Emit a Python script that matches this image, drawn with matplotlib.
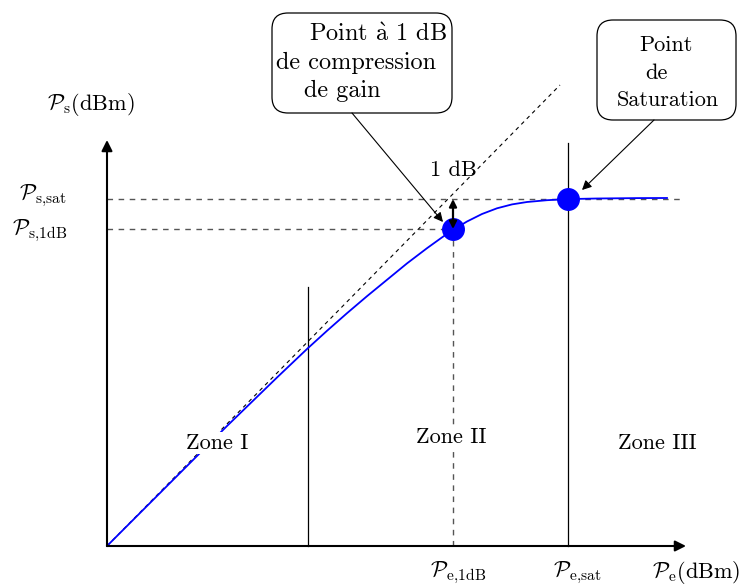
#!/usr/bin/env python3
"""Amplifier gain compression: output power vs input power, with 1 dB and saturation points."""

import matplotlib
matplotlib.use("Agg")
import matplotlib.pyplot as plt
from matplotlib.patches import FancyBboxPatch

plt.rcParams["mathtext.fontset"] = "cm"
plt.rcParams["font.family"] = ["cmr10", "DejaVu Serif"]
plt.rcParams["axes.unicode_minus"] = False

# -- Data (schematic units, origin at axes corner) ---------
p_in = [0, 60, 120, 170, 200, 220, 240, 260, 280, 300, 320, 335, 346,
        360, 375, 390, 405, 420, 440, 461, 490, 530, 560]
p_out = [0, 60, 120, 168.5, 197, 215.2, 232.8, 249.8, 266.2, 282.6, 297.8, 308.6, 316.1,
         324.5, 332, 337.7, 341.6, 344, 345.8, 346.9, 347.5, 347.9, 348]

ideal_x = [0, 453]
ideal_y = [0, 461]

p_e_1db, p_s_1db = 346, 317
p_e_sat, p_s_sat = 461, 347
zone_limit = 201

x_max, y_max = 579, 406

zone_labels = ["Zone I", "Zone II", "Zone III"]
zone_x = [110, 344, 550]
zone_y = [103, 109, 103]

FS = 16
DASH = (0, (4, 4))

fig = plt.figure(figsize=(7.41, 5.86), dpi=100)
ax = fig.add_axes([0, 0, 1, 1])
ax.set_xlim(-107, 634)
ax.set_ylim(-40, 546)
ax.axis("off")

# -- Axes arrows -------------------------------------------
arrow_kw = dict(arrowstyle="-|>", lw=1.5, color="black", mutation_scale=16,
                shrinkA=0, shrinkB=0)
ax.annotate("", xy=(x_max, 0), xytext=(0, 0), arrowprops=arrow_kw)
ax.annotate("", xy=(0, y_max), xytext=(0, 0), arrowprops=arrow_kw)

# -- Reference lines ---------------------------------------
ax.plot([0, 573], [p_s_sat, p_s_sat], color="#555555", lw=1, linestyle=DASH)
ax.plot([0, p_e_1db], [p_s_1db, p_s_1db], color="#555555", lw=1, linestyle=DASH)
ax.plot([p_e_1db, p_e_1db], [0, p_s_1db], color="#555555", lw=1, linestyle=DASH)
ax.plot([p_e_sat, p_e_sat], [0, 403], color="black", lw=0.9)
ax.plot([zone_limit, zone_limit], [0, 259], color="black", lw=0.9)
ax.plot(ideal_x, ideal_y, color="black", lw=0.8, linestyle=(0, (3.5, 3.5)))

# -- Transfer curve ----------------------------------------
ax.plot(p_in, p_out, color="#0000ff", lw=1.3)
ax.plot([p_e_1db, p_e_sat], [p_s_1db, p_s_sat], "o", color="#0000ff", markersize=15.5)

# -- 1 dB arrow --------------------------------------------
ax.annotate("", xy=(p_e_1db, p_s_sat), xytext=(p_e_1db, p_s_1db),
            arrowprops=dict(arrowstyle="<|-|>", lw=1.6, color="black",
                            mutation_scale=11, shrinkA=0, shrinkB=0))
ax.text(p_e_1db, 376, "1 dB", fontsize=FS, ha="center", va="center")

# -- Zone labels -------------------------------------------
for lab, zx, zy in zip(zone_labels, zone_x, zone_y):
    ax.text(zx, zy, lab, fontsize=FS, ha="center", va="center",
            bbox=dict(facecolor="white", edgecolor="none", pad=1))

# -- Axis labels -------------------------------------------
ax.text(-16, 441, r"$\mathcal{P}_\mathrm{s}(\mathrm{dBm})$", fontsize=FS, ha="center", va="center")
ax.text(-40, 350, r"$\mathcal{P}_\mathrm{s{,}sat}$", fontsize=FS, ha="right", va="center")
ax.text(-40, 315, r"$\mathcal{P}_\mathrm{s{,}1dB}$", fontsize=FS, ha="right", va="center")
ax.text(351, -27, r"$\mathcal{P}_\mathrm{e{,}1dB}$", fontsize=FS, ha="center", va="center")
ax.text(470, -27, r"$\mathcal{P}_\mathrm{e{,}sat}$", fontsize=FS, ha="center", va="center")
ax.text(589, -27, r"$\mathcal{P}_\mathrm{e}(\mathrm{dBm})$", fontsize=FS, ha="center", va="center")

# -- Callouts ----------------------------------------------
box_kw = dict(boxstyle="round,pad=0,rounding_size=16", facecolor="white",
              edgecolor="black", lw=0.9)
ax.add_patch(FancyBboxPatch((165, 433), 180, 100, **box_kw))
ax.add_patch(FancyBboxPatch((490, 426), 139, 100, **box_kw))

for txt, tx, ty in [(r"Point $\mathrm{\grave{a}}$ 1 dB", 271, 511),
                    ("de compression", 249, 483), ("de gain", 235, 455)]:
    ax.text(tx, ty, txt, fontsize=17.5, ha="center", va="center")
for txt, tx, ty in [("Point", 559, 501), ("de", 549, 473), ("Saturation", 561, 446)]:
    ax.text(tx, ty, txt, fontsize=FS, ha="center", va="center")

call_kw = dict(arrowstyle="-|>", lw=0.8, color="black", mutation_scale=14,
               shrinkA=0, shrinkB=0)
ax.annotate("", xy=(336, 324), xytext=(245, 433), arrowprops=call_kw)
ax.annotate("", xy=(475, 356), xytext=(547, 426), arrowprops=call_kw)

fig.savefig("out.png", dpi=100)
plt.close(fig)
